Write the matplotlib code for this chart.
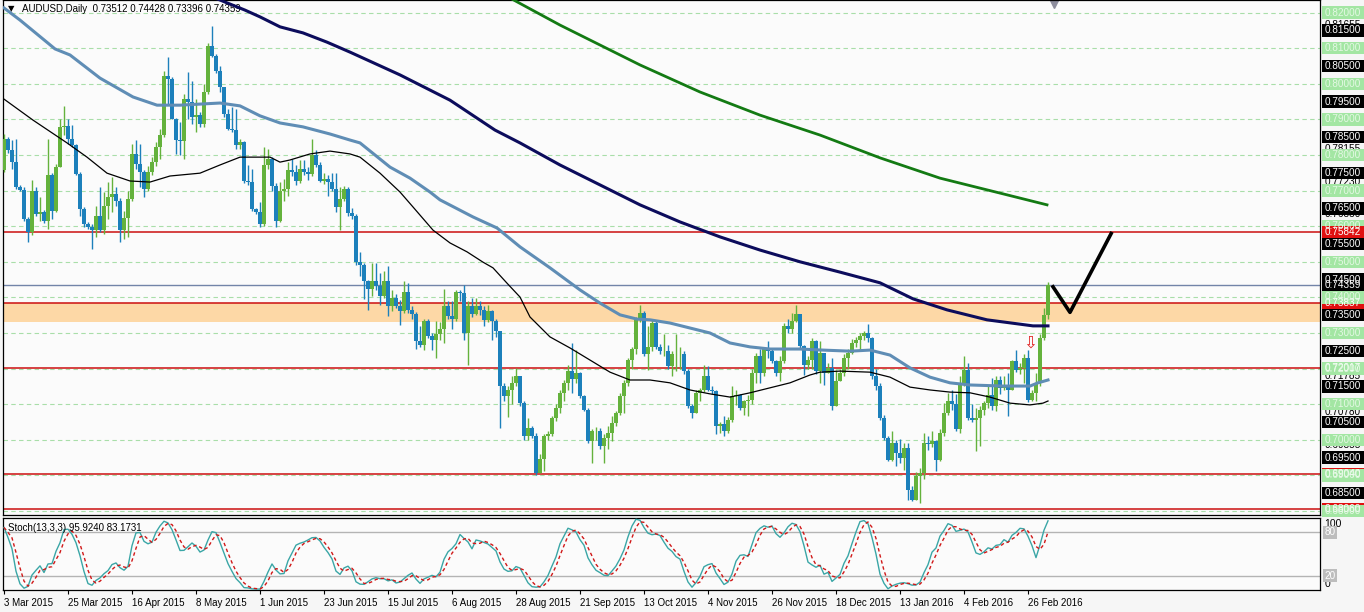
import numpy as np
import pandas as pd
import matplotlib
matplotlib.use("Agg")
import matplotlib.pyplot as plt
from matplotlib.patches import Rectangle
from matplotlib.transforms import blended_transform_factory

plt.rcParams["font.family"] = ["Liberation Sans", "DejaVu Sans"]

# ── Data (AUDUSD daily) ──────────────────────────────────────────────────────

DATE_LABELS = [
    "3 Mar 2015", "25 Mar 2015", "16 Apr 2015", "8 May 2015", "1 Jun 2015",
    "23 Jun 2015", "15 Jul 2015", "6 Aug 2015", "28 Aug 2015", "21 Sep 2015",
    "13 Oct 2015", "4 Nov 2015", "26 Nov 2015", "18 Dec 2015", "13 Jan 2016",
    "4 Feb 2016", "26 Feb 2016",
]
LABEL_EVERY = 16

FIRST_OPEN = 0.7757
CLOSE = [
    .7845, .7815, .7780, .7710, .7703, .7621, .7584, .7700, .7635, .7640,
    .7616, .7743, .7644, .7766, .7878, .7881, .7845, .7827, .7747, .7649,
    .7607, .7598, .7588, .7630, .7590, .7658, .7682, .7691, .7672, .7588,
    .7623, .7677, .7803, .7775, .7752, .7705, .7752, .7780, .7822, .7855,
    .8023, .8014, .7902, .7841, .7840, .7958, .7950, .7906, .7911, .7887,
    .7976, .8107, .8079, .8037, .7990, .7915, .7873, .7869, .7827, .7836,
    .7728, .7724, .7649, .7640, .7607, .7771, .7789, .7714, .7616, .7700,
    .7705, .7757, .7752, .7728, .7761, .7752, .7747, .7799, .7771, .7728,
    .7733, .7724, .7705, .7654, .7677, .7705, .7637, .7628, .7500, .7490,
    .7445, .7424, .7445, .7431, .7403, .7445, .7375, .7398, .7375, .7361,
    .7414, .7366, .7352, .7277, .7265, .7333, .7291, .7280, .7298, .7310,
    .7375, .7347, .7340, .7414, .7413, .7300, .7375, .7352, .7375, .7366,
    .7337, .7361, .7333, .7305, .7150, .7122, .7140, .7160, .7180, .7104,
    .7010, .7034, .7010, .6907, .6945, .7010, .7015, .7062, .7090, .7132,
    .7160, .7193, .7170, .7188, .7123, .7085, .6996, .7024, .7025, .6982,
    .7005, .7020, .7047, .7075, .7122, .7160, .7225, .7254, .7338, .7356,
    .7240, .7262, .7328, .7262, .7249, .7250, .7207, .7240, .7240, .7240,
    .7193, .7094, .7076, .7132, .7141, .7179, .7141, .7137, .7038, .7043,
    .7024, .7057, .7122, .7127, .7090, .7108, .7113, .7188, .7235, .7188,
    .7254, .7250, .7221, .7188, .7221, .7319, .7310, .7333, .7352, .7263,
    .7211, .7225, .7277, .7193, .7244, .7188, .7202, .7094, .7165, .7188,
    .7230, .7244, .7272, .7281, .7291, .7300, .7285, .7178, .7150, .7062,
    .7005, .6944, .6991, .6963, .6950, .6977, .6860, .6832, .6898, .6907,
    .6991, .6987, .6996, .6944, .7019, .7076, .7108, .7100, .7029, .7160,
    .7197, .7062, .7057, .7062, .7085, .7103, .7127, .7094, .7169, .7145,
    .7150, .7141, .7221, .7197, .7203, .7230, .7113, .7131, .7160, .7286,
    .7351, .74359,
]
HIGH = [
    .7859, .7850, .7841, .7845, .7715, .7710, .7625, .7729, .7710, .7682,
    .7645, .7845, .7750, .7775, .7902, .7937, .7902, .7883, .7831, .7752,
    .7654, .7612, .7605, .7658, .7710, .7696, .7724, .7738, .7710, .7680,
    .7644, .7700, .7831, .7841, .7831, .7757, .7770, .7795, .7836, .7873,
    .8035, .8074, .8020, .7905, .7892, .7972, .8032, .8009, .7958, .7920,
    .7999, .8116, .8163, .8085, .8051, .7925, .7929, .7934, .7929, .7845,
    .7840, .7771, .7761, .7652, .7668, .7822, .7817, .7795, .7720, .7724,
    .7733, .7780, .7789, .7771, .7785, .7785, .7765, .7845, .7813, .7780,
    .7750, .7745, .7750, .7750, .7710, .7714, .7710, .7651, .7635, .7527,
    .7497, .7450, .7497, .7497, .7469, .7473, .7487, .7420, .7410, .7392,
    .7445, .7440, .7375, .7360, .7319, .7340, .7340, .7300, .7333, .7330,
    .7424, .7390, .7390, .7420, .7420, .7436, .7390, .7398, .7398, .7390,
    .7375, .7380, .7366, .7340, .7305, .7160, .7150, .7178, .7202, .7150,
    .7110, .7062, .7040, .7020, .6960, .7015, .7025, .7066, .7100, .7141,
    .7169, .7210, .7272, .7253, .7190, .7125, .7090, .7030, .7035, .7034,
    .7015, .7038, .7066, .7080, .7132, .7169, .7230, .7260, .7345, .7380,
    .7361, .7320, .7338, .7333, .7270, .7296, .7265, .7250, .7296, .7260,
    .7250, .7200, .7100, .7141, .7146, .7211, .7207, .7150, .7140, .7050,
    .7066, .7065, .7150, .7140, .7130, .7113, .7125, .7200, .7244, .7254,
    .7258, .7277, .7255, .7225, .7235, .7328, .7338, .7356, .7380, .7340,
    .7265, .7235, .7285, .7280, .7277, .7245, .7215, .7230, .7197, .7200,
    .7240, .7255, .7282, .7290, .7300, .7305, .7324, .7290, .7200, .7160,
    .7070, .7010, .7024, .7000, .7001, .6990, .6990, .6870, .6910, .6920,
    .7019, .7010, .7024, .7000, .7030, .7104, .7132, .7140, .7130, .7178,
    .7235, .7215, .7100, .7090, .7095, .7110, .7150, .7174, .7178, .7180,
    .7180, .7188, .7225, .7253, .7215, .7240, .7253, .7140, .7188, .7296,
    .7370, .74428,
]
LOW = [
    .7752, .7805, .7761, .7705, .7700, .7615, .7557, .7574, .7630, .7616,
    .7610, .7593, .7620, .7640, .7766, .7855, .7831, .7822, .7743, .7630,
    .7598, .7593, .7535, .7570, .7584, .7579, .7621, .7640, .7658, .7556,
    .7565, .7570, .7672, .7761, .7710, .7682, .7700, .7745, .7770, .7789,
    .7850, .7944, .7900, .7803, .7800, .7789, .7900, .7887, .7864, .7880,
    .7880, .7970, .8075, .8030, .7976, .7906, .7870, .7864, .7817, .7817,
    .7720, .7715, .7644, .7635, .7597, .7600, .7760, .7700, .7597, .7612,
    .7670, .7686, .7740, .7715, .7720, .7745, .7730, .7740, .7766, .7723,
    .7718, .7686, .7700, .7640, .7588, .7670, .7630, .7620, .7490, .7459,
    .7395, .7366, .7403, .7420, .7380, .7398, .7347, .7361, .7370, .7323,
    .7355, .7355, .7340, .7255, .7260, .7253, .7285, .7253, .7230, .7280,
    .7272, .7340, .7311, .7333, .7390, .7281, .7211, .7345, .7350, .7350,
    .7320, .7330, .7281, .7290, .7033, .7110, .7064, .7100, .7150, .7095,
    .7000, .7000, .7005, .6902, .6907, .6912, .7000, .7010, .7052, .7075,
    .7108, .7141, .7132, .7160, .7118, .7080, .6990, .6935, .7000, .6975,
    .6935, .6975, .6996, .7040, .7070, .7075, .7150, .7200, .7240, .7330,
    .7235, .7197, .7250, .7255, .7240, .7235, .7200, .7180, .7192, .7200,
    .7185, .7090, .7062, .7090, .7108, .7135, .7136, .7130, .7015, .7020,
    .7010, .7020, .7050, .7099, .7085, .7071, .7066, .7100, .7160, .7160,
    .7180, .7230, .7215, .7180, .7165, .7215, .7300, .7300, .7330, .7255,
    .7183, .7200, .7200, .7185, .7160, .7155, .7190, .7085, .7094, .7165,
    .7180, .7200, .7240, .7260, .7250, .7280, .7275, .7170, .7140, .7055,
    .7000, .6940, .6940, .6926, .6935, .6916, .6832, .6827, .6832, .6823,
    .6890, .6970, .6980, .6912, .6940, .7010, .7070, .7085, .7025, .7020,
    .7150, .7055, .7050, .6968, .6982, .7070, .7090, .7085, .7080, .7130,
    .7140, .7066, .7140, .7190, .7185, .7160, .7105, .7108, .7108, .7150,
    .7280, .73396,
]

# moving averages, read as (bar, price) vertices
MA_STEEL_X = [0, 4, 12.75, 16.5, 24, 32.25, 38.25, 44, 54, 59, 64, 69, 74.75, 81.5,
              86.5, 89, 96.5, 101.5, 106.5, 109, 117.25, 123.25, 129, 136.5, 144,
              149, 154, 158.25, 161.5, 166.5, 171.5, 176.5, 181.5, 186.5, 191.5,
              199, 204.75, 211.5, 216.5, 221.5, 226.5, 231.5, 236.5, 241.5, 249.75,
              256.5, 258.5, 261]
MA_STEEL_Y = [.8213, .8179, .8098, .8081, .8016, .7963, .7940, .7940, .7946, .7938,
              .7910, .7890, .7879, .7859, .7842, .7834, .7766, .7735, .7696, .7674,
              .7626, .7595, .7542, .7483, .7421, .7384, .7351, .7339, .7337, .7328,
              .7314, .7300, .7272, .7261, .7255, .7255, .7252, .7249, .7252, .7238,
              .7202, .7176, .7160, .7154, .7151, .7151, .7160, .7168]

MA_BLACK_X = [0, 7.25, 15.75, 20.75, 25.75, 31.5, 36.5, 41.5, 49, 54, 59, 66.5, 69,
              71.5, 76.5, 81.5, 86.5, 89, 94, 99, 102.25, 107.25, 111.5, 115.75,
              119.75, 122.25, 125.75, 129, 131.5, 136.5, 141.5, 146.5, 151.5, 156.5,
              161.5, 166.5, 171.5, 176.5, 181.5, 186.5, 191.5, 196.5, 201.5, 204, 209,
              216.5, 221.5, 226.5, 231.5, 236.5, 241.5, 246.5, 251.5, 256.5, 259.75, 261]
MA_BLACK_Y = [.7957, .7898, .7834, .7794, .7749, .7727, .7724, .7741, .7749, .7772,
              .7794, .7794, .7780, .7786, .7803, .7811, .7803, .7794, .7749, .7696,
              .7654, .7589, .7553, .7528, .7499, .7483, .7440, .7401, .7345, .7289,
              .7258, .7224, .7190, .7168, .7168, .7160, .7140, .7129, .7120, .7132,
              .7146, .7160, .7182, .7190, .7193, .7190, .7176, .7148, .7140, .7134,
              .7132, .7120, .7103, .7098, .7103, .7109]

MA_NAVY_X = [52.75, 60.25, 64, 69, 74.75, 80.75, 86.5, 99, 111.5, 122.75, 129, 139,
             149, 159, 169, 179, 189, 199, 209, 219, 227.25, 235.75, 245.75, 257.25, 261]
MA_NAVY_Y = [.8241, .8207, .8188, .8160, .8143, .8117, .8089, .8025, .7954, .7870,
             .7834, .7772, .7716, .7660, .7612, .7570, .7533, .7500, .7471, .7441,
             .7396, .7365, .7337, .7320, .7320]

MA_GREEN_X = [126.5, 139, 149, 159, 174, 189, 204, 219, 234, 249, 260.75]
MA_GREEN_Y = [.8241, .8165, .8109, .8053, .7977, .7912, .7856, .7792, .7735, .7693, .7660]

RED_LEVELS = [0.75842, 0.73837, 0.72017, 0.69040, 0.68060]
ZONE = (0.7330, 0.73837)
LAST_PRICE = 0.74359
V_SKETCH_X = [262, 266.5, 277]
V_SKETCH_Y = [0.7434, 0.7358, 0.7584]
ARROW_AT = (256.5, 0.7272)

# labels along the price scale
SIDE_TEXT = [0.81655, 0.78155, 0.77230, 0.76330, 0.75405, 0.71785, 0.70780, 0.69855, 0.68930]
GREEN_TAGS = [0.82, 0.81, 0.80, 0.79, 0.78, 0.77, 0.76, 0.75, 0.74, 0.73, 0.72, 0.71, 0.70, 0.69, 0.68]
BLACK_TAGS = [0.815, 0.805, 0.795, 0.785, 0.775, 0.765, 0.755, 0.745, 0.735, 0.725, 0.715,
              0.705, 0.695, 0.685]

# ── Derived series ────────────────────────────────────────────────────────────

c = np.array(CLOSE)
o = np.r_[FIRST_OPEN, c[:-1]]
hi = np.maximum(np.array(HIGH), np.maximum(o, c))
lo = np.minimum(np.array(LOW), np.minimum(o, c))
x = np.arange(len(c))

s = pd.DataFrame({"h": hi, "l": lo, "c": c})
ll = s["l"].rolling(13, min_periods=1).min()
hh = s["h"].rolling(13, min_periods=1).max()
k = 100 * (s["c"] - ll).rolling(3, min_periods=1).sum() / (hh - ll).rolling(3, min_periods=1).sum()
d = k.rolling(3, min_periods=1).mean()

# ── Plot ──────────────────────────────────────────────────────────────────────

W, H = 1364, 612
BG = "#fbfbfb"
UP, DOWN = "#64b23c", "#1c80bb"

fig = plt.figure(figsize=(W / 100, H / 100), dpi=100, facecolor="#f6f6f6")
ax = fig.add_axes([3 / W, 1 - 515 / H, 1317 / W, 515 / H], facecolor=BG)
sx = fig.add_axes([3 / W, 1 - 590 / H, 1317 / W, 72 / H], facecolor=BG)

xlim = (-0.25, 329)
ax.set_xlim(*xlim)
ax.set_ylim(0.82354 - 515 / 3560, 0.82354)

# grid
for lvl in GREEN_TAGS:
    ax.axhline(lvl, color="#a9dea9", lw=0.8, dashes=(4, 3), zorder=0)

ax.axhspan(*ZONE, color="#fdd8a6", lw=0, zorder=0.5)
for lvl in RED_LEVELS:
    ax.axhline(lvl, color="#cc1010", lw=1.1, zorder=1)
ax.axhline(LAST_PRICE, color="#7284a8", lw=1, zorder=1)

# candles
cols = np.where(c >= o, UP, DOWN)
ax.vlines(x, lo, hi, colors=cols, lw=1.0, zorder=3)
body = np.maximum(np.abs(c - o), 0.00012)
ax.bar(x, body, bottom=np.minimum(o, c), width=0.8, color=cols, lw=0, zorder=3)

# moving averages
ax.plot(MA_GREEN_X, MA_GREEN_Y, color="#137a13", lw=2, zorder=4)
ax.plot(MA_NAVY_X, MA_NAVY_Y, color="#0c0c5c", lw=2.2, zorder=4)
ax.plot(MA_STEEL_X, MA_STEEL_Y, color="#5f8db5", lw=2.2, zorder=4)
ax.plot(MA_BLACK_X, MA_BLACK_Y, color="black", lw=0.9, zorder=4)

ax.plot(V_SKETCH_X, V_SKETCH_Y, color="black", lw=2.6, zorder=5, solid_capstyle="butt")
ax.text(*ARROW_AT, "\u21e9", color="#e02020", fontsize=12, ha="center", va="center",
        family=["DejaVu Sans"], zorder=6)

ax.text(5 / 1317, 1 - 9 / 515, "\u25bc", transform=ax.transAxes, fontsize=6,
        va="center", ha="left", family=["DejaVu Sans"])
ax.text(19 / 1317, 1 - 9 / 515, "AUDUSD,Daily  0.73512 0.74428 0.73396 0.74359",
        transform=ax.transAxes, fontsize=7, va="center", ha="left")
ax.plot([262.5], [0.995], marker="v", ms=7, color="#8d8d9d",
        transform=blended_transform_factory(ax.transData, ax.transAxes), clip_on=False)

ax.set_xticks([])
ax.set_yticks([])

# price scale tags
tr = blended_transform_factory(ax.transAxes, ax.transData)
TAG_W, TAG_H = 42 / 1317, 12.5 / 3560
X0 = 1.0015


def tag(p, txt, fc, tc):
    ax.add_patch(Rectangle((X0, p - TAG_H / 2), TAG_W, TAG_H, transform=tr,
                           facecolor=fc, edgecolor="none", clip_on=False, zorder=10))
    ax.text(X0 + TAG_W / 2, p, txt, transform=tr, ha="center", va="center",
            fontsize=7.2, color=tc, clip_on=False, zorder=11)


for p in SIDE_TEXT:
    ax.text(X0 + TAG_W / 2, p, f"{p:.5f}", transform=tr, ha="center", va="center",
            fontsize=7.2, color="black", clip_on=False, zorder=9)
tag(LAST_PRICE, f"{LAST_PRICE:.5f}", "black", "white")
for p in RED_LEVELS[1:]:
    tag(p, f"{p:.5f}", "#e01010", "white")
for p in GREEN_TAGS:
    tag(p, f"{p:.5f}", "#a3e6a3", "#e4f8e4")
for p in BLACK_TAGS:
    tag(p, f"{p:.5f}", "black", "white")
tag(RED_LEVELS[0], f"{RED_LEVELS[0]:.5f}", "#e01010", "white")

# stochastic window
sx.set_xlim(*xlim)
sx.set_ylim(0, 100)
for lvl in (80, 20):
    sx.axhline(lvl, color="#b4b4b4", lw=1, zorder=1)
sx.plot(x, k, color="#3aa6a6", lw=1, zorder=3)
sx.plot(x, d, color="#d01818", lw=1, dashes=(2.5, 2), zorder=3)
sx.text(5 / 1317, 0.86, "Stoch(13,3,3) 95.9240 83.1731", transform=sx.transAxes,
        fontsize=7, va="center", ha="left")
sx.set_yticks([])

str_ = blended_transform_factory(sx.transAxes, sx.transData)
sx.text(X0 + 0.002, 91, "100", transform=str_, fontsize=7.5, va="center", ha="left")
sx.text(X0 + 0.002, 8, "0", transform=str_, fontsize=7.5, va="center", ha="left")
for lvl in (80, 20):
    sx.text(X0 + 0.002, lvl, f"{lvl}", transform=str_, fontsize=7.2, va="center",
            ha="left", color="white",
            bbox=dict(boxstyle="square,pad=0.15", fc="#bdbdbd", ec="none"))

ticks = np.arange(len(DATE_LABELS)) * LABEL_EVERY
sx.set_xticks(ticks)
sx.set_xticklabels(DATE_LABELS, fontsize=7, ha="left")
sx.tick_params(axis="x", length=3, pad=3, width=0.8)

for a in (ax, sx):
    for sp in a.spines.values():
        sp.set_color("black")
        sp.set_linewidth(0.9)

fig.savefig("out.png", dpi=100, facecolor=fig.get_facecolor())
